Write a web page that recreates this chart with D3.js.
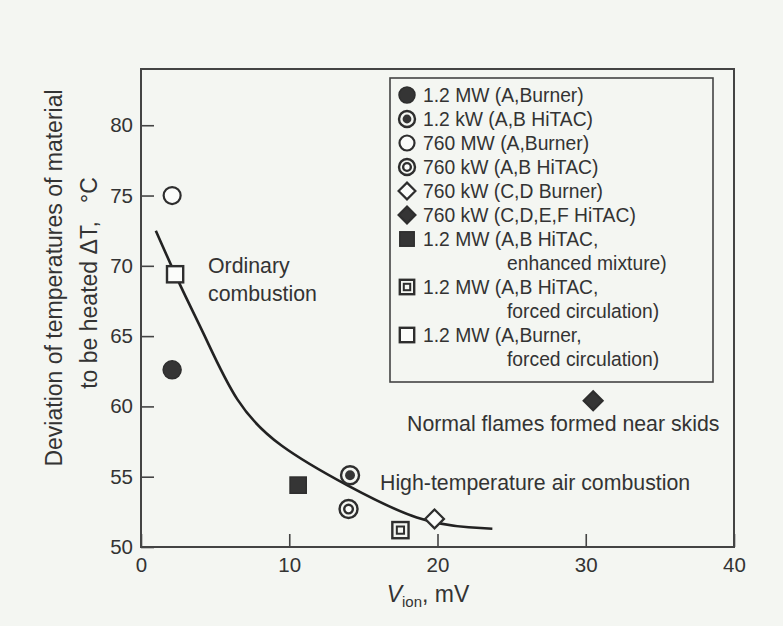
<!DOCTYPE html>
<html>
<head>
<meta charset="utf-8">
<script src="https://cdn.jsdelivr.net/npm/d3@7"></script>
<style>
  body { margin: 0; background: #f4f6f2; }
  svg { display: block; font-family: "Liberation Sans", Arial, sans-serif; }
</style>
</head>
<body>
<div id="chart"></div>
<script>
// axis ticks
const xTicks = [0, 10, 20, 30, 40];
const yTicks = [50, 55, 60, 65, 70, 75, 80];

// series (one point each)
const seriesLabels = [
  ["1.2 MW (A,Burner)"],
  ["1.2 kW (A,B HiTAC)"],
  ["760 MW (A,Burner)"],
  ["760 kW (A,B HiTAC)"],
  ["760 kW (C,D Burner)"],
  ["760 kW (C,D,E,F HiTAC)"],
  ["1.2 MW (A,B HiTAC,", "enhanced mixture)"],
  ["1.2 MW (A,B HiTAC,", "forced circulation)"],
  ["1.2 MW (A,Burner,", "forced circulation)"]
];
const seriesX = [2.1, 14.1, 2.1, 14.0, 19.8, 30.5, 10.6, 17.5, 2.3];
const seriesY = [62.6, 55.1, 75.0, 52.7, 52.0, 60.4, 54.4, 51.2, 69.4];

// fitted curve
const curveX = [1.0, 2.7, 4.3, 6.5, 9.5, 13.9, 18.6, 22.1, 23.7];
const curveY = [72.5, 68.5, 65.0, 60.5, 57.2, 54.4, 52.1, 51.4, 51.3];

const markerTypes = ["dot", "dotRing", "open", "ring", "diamondOpen", "diamond", "square", "squareIn", "squareOpen"];

const ink = "#2e2e2e";

function drawMarker(g, type, r) {
  const side = r * 1.8;
  if (type === "dot") {
    g.append("circle").attr("r", r).attr("fill", "#353535").attr("stroke", ink).attr("stroke-width", 1.5);
  } else if (type === "dotRing") {
    g.append("circle").attr("r", r).attr("fill", "#f4f6f2").attr("stroke", ink).attr("stroke-width", 2.4);
    g.append("circle").attr("r", r * 0.55).attr("fill", "#353535");
  } else if (type === "open") {
    g.append("circle").attr("r", r - 0.5).attr("fill", "#fbfcfa").attr("stroke", ink).attr("stroke-width", 2.2);
  } else if (type === "ring") {
    g.append("circle").attr("r", r).attr("fill", "#f4f6f2").attr("stroke", ink).attr("stroke-width", 2.4);
    g.append("circle").attr("r", r * 0.48).attr("fill", "#fbfcfa").attr("stroke", ink).attr("stroke-width", 2.4);
  } else if (type === "diamondOpen" || type === "diamond") {
    const h = r * 1.05;
    g.append("path")
      .attr("d", `M0,${-h}L${h},0L0,${h}L${-h},0Z`)
      .attr("fill", type === "diamond" ? "#353535" : "#fbfcfa")
      .attr("stroke", ink).attr("stroke-width", 2.2);
  } else if (type === "square") {
    g.append("rect").attr("x", -side / 2).attr("y", -side / 2).attr("width", side).attr("height", side)
      .attr("fill", "#353535").attr("stroke", ink).attr("stroke-width", 1.5);
  } else if (type === "squareIn") {
    g.append("rect").attr("x", -side / 2).attr("y", -side / 2).attr("width", side).attr("height", side)
      .attr("fill", "#f4f6f2").attr("stroke", ink).attr("stroke-width", 2.4);
    g.append("rect").attr("x", -side / 4.5).attr("y", -side / 4.5).attr("width", side / 2.25).attr("height", side / 2.25)
      .attr("fill", "#f4f6f2").attr("stroke", ink).attr("stroke-width", 2);
  } else if (type === "squareOpen") {
    g.append("rect").attr("x", -side / 2).attr("y", -side / 2).attr("width", side).attr("height", side)
      .attr("fill", "#fbfcfa").attr("stroke", ink).attr("stroke-width", 2.4);
  }
}

function createChart() {
  const width = 783;
  const height = 626;
  const plot = { left: 141, right: 734, top: 69, bottom: 547 };

  const svg = d3.select("#chart").append("svg")
    .attr("width", width)
    .attr("height", height);

  const x = d3.scaleLinear().domain([0, 40]).range([plot.left, plot.right]);
  const y = d3.scaleLinear().domain([50, 84]).range([plot.bottom, plot.top]);

  // ticks pointing inwards
  const xAxis = d3.axisBottom(x).tickValues(xTicks).tickSize(-13).tickSizeOuter(0).tickPadding(10);
  const yAxis = d3.axisLeft(y).tickValues(yTicks).tickSize(-13).tickSizeOuter(0).tickPadding(8);

  const gx = svg.append("g")
    .attr("transform", "translate(0," + plot.bottom + ")")
    .call(xAxis);
  const gy = svg.append("g")
    .attr("transform", "translate(" + plot.left + ",0)")
    .call(yAxis);

  [gx, gy].forEach((g) => {
    g.select(".domain").remove();
    g.selectAll(".tick line").attr("stroke", "#444").attr("stroke-width", 1.6);
    g.selectAll(".tick text").attr("fill", "#333").style("font-size", "20.5px").style("font-family", "Liberation Sans, Arial, sans-serif");
  });

  // frame
  svg.append("rect")
    .attr("x", plot.left)
    .attr("y", plot.top)
    .attr("width", plot.right - plot.left)
    .attr("height", plot.bottom - plot.top)
    .attr("fill", "none")
    .attr("stroke", "#444")
    .attr("stroke-width", 2);

  // curve
  const line = d3.line()
    .x((d) => x(d[0]))
    .y((d) => y(d[1]))
    .curve(d3.curveNatural);
  svg.append("path")
    .datum(d3.zip(curveX, curveY))
    .attr("d", line)
    .attr("fill", "none")
    .attr("stroke", "#222")
    .attr("stroke-width", 2.6);

  // points
  seriesX.forEach((vx, i) => {
    const g = svg.append("g").attr("transform", `translate(${x(vx)},${y(seriesY[i])})`);
    drawMarker(g, markerTypes[i], 9);
  });

  // annotations
  const note = (tx, ty, s) => svg.append("text")
    .attr("x", tx).attr("y", ty)
    .attr("fill", "#333")
    .style("font-size", "21.3px")
    .text(s);
  note(208, 273, "Ordinary");
  note(208, 301, "combustion");
  note(407, 431, "Normal flames formed near skids");
  note(380, 490, "High-temperature air combustion");

  // legend
  const legend = svg.append("g");
  legend.append("rect")
    .attr("x", 390).attr("y", 78)
    .attr("width", 323).attr("height", 304)
    .attr("fill", "none")
    .attr("stroke", "#444")
    .attr("stroke-width", 1.6);

  let row = 0;
  seriesLabels.forEach((lines, i) => {
    const cy = 95 + row * 24;
    const g = legend.append("g").attr("transform", `translate(407,${cy})`);
    drawMarker(g, markerTypes[i], 8);
    lines.forEach((s, j) => {
      legend.append("text")
        .attr("x", j === 0 ? 423 : 507)
        .attr("y", 95 + (row + j) * 24)
        .attr("dy", "0.35em")
        .attr("fill", "#333")
        .style("font-size", "19.3px")
        .text(s);
    });
    row += lines.length;
  });

  // y title
  svg.append("text")
    .attr("transform", "translate(62,278) rotate(-90)")
    .attr("text-anchor", "middle")
    .attr("fill", "#333")
    .style("font-size", "23px")
    .text("Deviation of temperatures of material");
  svg.append("text")
    .attr("transform", "translate(97,305) rotate(-90)")
    .attr("text-anchor", "middle")
    .attr("fill", "#333")
    .style("font-size", "23px")
    .text("to be heated \u0394T,");
  svg.append("text")
    .attr("transform", "translate(97,190) rotate(-90)")
    .attr("text-anchor", "middle")
    .attr("fill", "#333")
    .style("font-size", "23px")
    .text("\u00b0C");

  // x title
  const xt = svg.append("text")
    .attr("x", 428).attr("y", 602)
    .attr("text-anchor", "middle")
    .attr("fill", "#333")
    .style("font-size", "23px");
  xt.append("tspan").style("font-style", "italic").text("V");
  xt.append("tspan").attr("dy", 5).style("font-size", "15px").text("ion");
  xt.append("tspan").attr("dy", -5).text(", mV");
}

createChart();
</script>
</body>
</html>
